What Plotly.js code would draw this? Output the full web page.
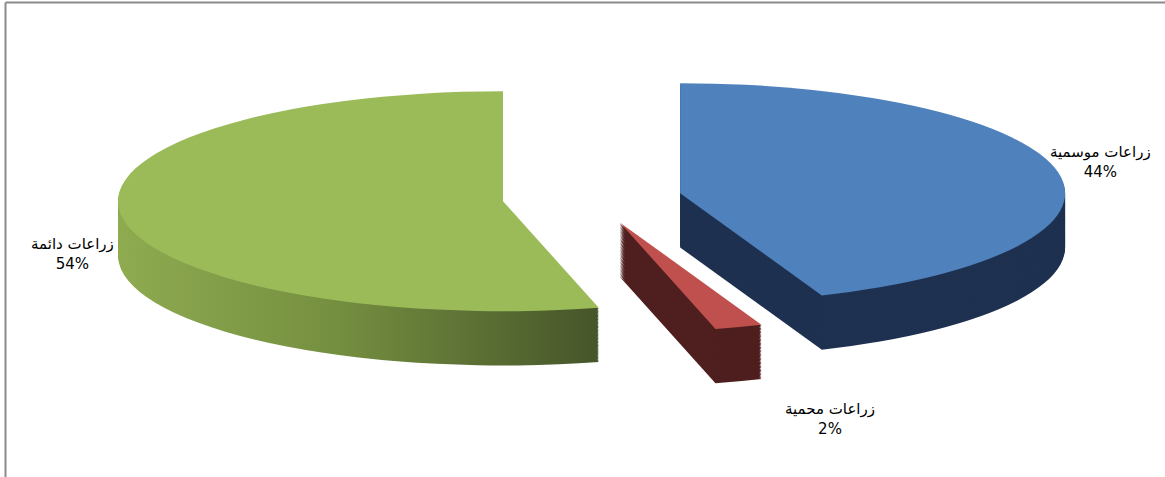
<!DOCTYPE html>
<html><head><meta charset="utf-8">
<script src="https://cdn.plot.ly/plotly-3.0.1.min.js"></script>
<style>html,body{margin:0;padding:0;background:#fff;} #chart{width:1165px;height:477px;}</style>
</head><body><div id="chart"></div>
<script>
// ---- data ----
const categories = ['زراعات موسمية', 'زراعات محمية', 'زراعات دائمة'];
const values = [44, 2, 54];
const percentLabels = ['44%', '2%', '54%'];
// ---- styles ----
const topColors = ['#4F81BD', '#C0504D', '#9BBB59'];
const sideColors = ['#1F3150', '#4E1F1E', '#6E8A3C'];
const labelPos = [[1100, 162], [830, 419], [72, 254]]; // pixel centres of the labels
const pullFrac = 0.233;
const N = 40, d = 0.2, shiftFrac = 0.16;
const CX = 592, CY = 198, RX = 385, RY = 110;
const W = 1165, H = 477;

const traces = [];
for (let k = N; k >= 1; k--) {
  const off = shiftFrac * k / N;
  traces.push({
    type: 'pie', values: values, labels: categories, sort: false, direction: 'clockwise', rotation: 0,
    pull: pullFrac, marker: {colors: sideColors, line: {width: 0}}, textinfo: 'none', hoverinfo: 'skip',
    showlegend: false, domain: {x: [0, 1], y: [d - off, 1 - off]}
  });
}
traces.push({
  type: 'pie', values: values, labels: categories, sort: false, direction: 'clockwise', rotation: 0,
  pull: pullFrac, marker: {colors: topColors, line: {width: 0}}, textinfo: 'none', hoverinfo: 'skip',
  showlegend: false, domain: {x: [0, 1], y: [d, 1]}
});

const annotations = categories.map((c, i) => ({
  xref: 'paper', yref: 'paper', x: labelPos[i][0] / W, y: 1 - labelPos[i][1] / H,
  xanchor: 'center', yanchor: 'middle', showarrow: false, align: 'center',
  text: c + '<br>' + percentLabels[i],
  font: {family: 'DejaVu Sans, sans-serif', size: 15, color: '#000'}
}));

const layout = {
  width: W, height: H, margin: {l: 0, r: 0, t: 0, b: 0},
  paper_bgcolor: '#fff', plot_bgcolor: '#fff', showlegend: false,
  annotations: annotations,
  shapes: [
    {type: 'line', xref: 'paper', yref: 'paper', x0: 5.5 / W, x1: 5.5 / W, y0: 0, y1: 1 - 2.5 / H, line: {color: '#8A8A8A', width: 2}},
    {type: 'line', xref: 'paper', yref: 'paper', x0: 5.5 / W, x1: 1, y0: 1 - 2.5 / H, y1: 1 - 2.5 / H, line: {color: '#8A8A8A', width: 2}}
  ]
};

const gd = document.getElementById('chart');
Plotly.newPlot(gd, traces, layout, {staticPlot: true, displayModeBar: false}).then(() => {
  const cd = gd.calcdata[N][0];
  const r0 = cd.r || (H * (1 - d)) / (2 + 2 * pullFrac);
  const cx0 = cd.cx || W / 2;
  const cy0 = cd.cy || H * (1 - d) / 2;
  const sx = RX / r0, sy = RY / r0;
  const layer = gd.querySelector('.pielayer');
  layer.setAttribute('transform', `translate(${CX},${CY}) scale(${sx},${sy}) translate(${-cx0},${-cy0})`);
  // gradient for the green side wall
  const svgNS = 'http://www.w3.org/2000/svg';
  const svg = gd.querySelector('svg.main-svg');
  let defs = svg.querySelector('defs');
  if (!defs) { defs = document.createElementNS(svgNS, 'defs'); svg.insertBefore(defs, svg.firstChild); }
  const grad = document.createElementNS(svgNS, 'linearGradient');
  grad.setAttribute('id', 'greenSideGrad');
  grad.setAttribute('x1', '0'); grad.setAttribute('y1', '0'); grad.setAttribute('x2', '1'); grad.setAttribute('y2', '0');
  [['0', '#8FAB50'], ['0.45', '#758F40'], ['1', '#46552A']].forEach(([o, c]) => {
    const s = document.createElementNS(svgNS, 'stop');
    s.setAttribute('offset', o); s.setAttribute('stop-color', c); grad.appendChild(s);
  });
  defs.appendChild(grad);
  const tr = layer.querySelectorAll('g.trace');
  for (let i = 0; i < N; i++) {
    const sl = tr[i].querySelectorAll('g.slice path.surface');
    if (sl[2]) sl[2].style.fill = 'url(#greenSideGrad)';
  }
});
</script>
</body></html>
